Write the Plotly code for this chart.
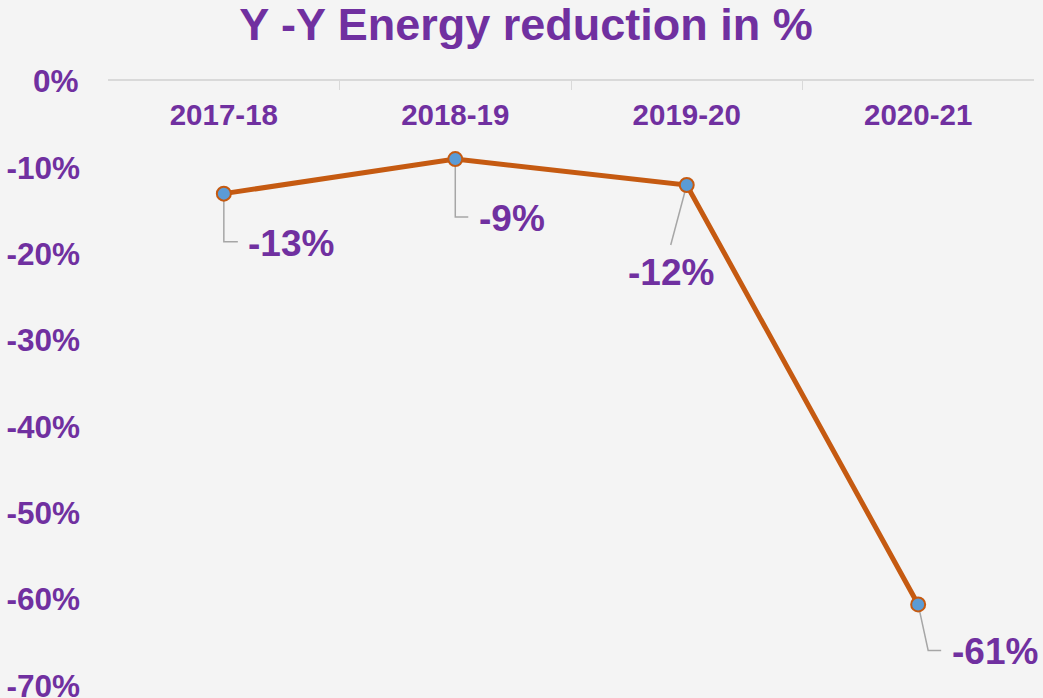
import plotly.graph_objects as go

categories = ["2017-18", "2018-19", "2019-20", "2020-21"]
reduction = [-0.13, -0.09, -0.12, -0.606]
y_ticks = [0, -0.1, -0.2, -0.3, -0.4, -0.5, -0.6, -0.7]
y_tick_text = ["0%", "-10%", "-20%", "-30%", "-40%", "-50%", "-60%", "-70%"]

PURPLE = "#7030A0"
ORANGE = "#C55A11"
BLUE = "#5B9BD5"
GRAY = "#A6A6A6"
BG = "#F4F4F4"
TICK_FONT = dict(family="Liberation Sans, Arial", size=31.5, color=PURPLE, weight="bold")

fig = go.Figure()
fig.add_trace(go.Scatter(
    x=categories, y=reduction, mode="lines+markers",
    line=dict(color=ORANGE, width=5),
    marker=dict(size=14, color=BLUE, line=dict(color=ORANGE, width=2)),
    hoverinfo="skip", showlegend=False, cliponaxis=False,
))

# label placements (pixel offsets from each point) and leader paths
label_style = [
    dict(xshift=22, yshift=-50, xanchor="left", path="M0,0 L0,-48 L14,-48"),
    dict(xshift=22, yshift=-59, xanchor="left", path="M0,0 L0,-58 L13,-58"),
    dict(xshift=-16, yshift=-87, xanchor="center", path="M0,0 L-16,-60"),
    dict(xshift=32, yshift=-47, xanchor="left", path="M0,0 L10,-46 L23,-46"),
]
for c, v, st in zip(categories, reduction, label_style):
    fig.add_shape(type="path", xref="x", yref="y", xsizemode="pixel", ysizemode="pixel",
                  xanchor=c, yanchor=v, path=st["path"],
                  line=dict(color=GRAY, width=1.5), layer="below")
    fig.add_annotation(x=c, y=v, xref="x", yref="y", text=f"{v*100:.0f}%",
                       showarrow=False, xanchor=st["xanchor"], yanchor="middle",
                       xshift=st["xshift"], yshift=st["yshift"],
                       font=dict(family="Liberation Sans, Arial", size=37, color=PURPLE,
                                 weight="bold"))

# the top tick label (0%) is hidden by plotly next to the top x axis; draw it as text
fig.add_annotation(x=0, y=y_ticks[0], xref="paper", yref="y", text=y_tick_text[0],
                   showarrow=False, xanchor="right", yanchor="middle", xshift=-27,
                   font=TICK_FONT)

fig.update_layout(
    width=1043, height=698,
    paper_bgcolor=BG, plot_bgcolor=BG,
    margin=dict(l=108, r=9, t=81, b=12, autoexpand=False),
    font=dict(family="Liberation Sans, Arial", color=PURPLE),
    title=dict(text="<b>Y -Y Energy reduction in %</b>", xref="container", x=526 / 1043,
               xanchor="center", yref="container", y=1 - 24 / 698, yanchor="middle",
               font=dict(size=45, color=PURPLE, family="Liberation Sans, Arial")),
    xaxis=dict(side="top", type="category", showline=True, linecolor="#D9D9D9", linewidth=1.5,
               ticks="inside", tickson="boundaries", ticklen=9, tickcolor="#D9D9D9",
               ticklabelposition="inside", ticklabelstandoff=18, automargin=False,
               tickfont=dict(size=29.5, color=PURPLE, weight="bold"),
               showgrid=False, zeroline=False, range=[-0.5005, 3.5005]),
    yaxis=dict(range=[-0.7005, 0.0005], tickvals=y_ticks[1:], ticktext=y_tick_text[1:],
               showgrid=False, zeroline=False, showline=False, ticks="",
               ticklabelstandoff=27, automargin=False, ticklabeloverflow="allow",
               tickfont=TICK_FONT),
)

fig.write_html("out.html")
